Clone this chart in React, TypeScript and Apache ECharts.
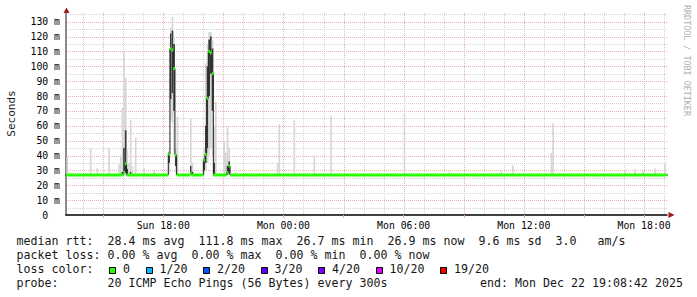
import React, { useEffect, useRef } from "react";
import * as echarts from "echarts";

// ---------- time helpers (hours since Sun 00:00) ----------
function t(label: string): number {
  const [day, hm] = label.split(" ");
  const [h, m] = hm.split(":").map(Number);
  return (day === "Mon" ? 24 : 0) + h + m / 60;
}
const STEP_H = 5 / 60; // 300 s step
const START_H = 13 + 8 / 60 + 42 / 3600; // Sun 13:08:42
const END_H = START_H + 30; // Mon 19:08:42
const Y_MAX = 135.85;

// ---------- axis ticks ----------
const xTickHours = [18, 24, 30, 36, 42];
const xTickLabels = ["Sun 18:00", "Mon 00:00", "Mon 06:00", "Mon 12:00", "Mon 18:00"];
const yTickValues = [0, 10, 20, 30, 40, 50, 60, 70, 80, 90, 100, 110, 120, 130];
const yTickLabels = ["0", "10 m", "20 m", "30 m", "40 m", "50 m", "60 m", "70 m", "80 m", "90 m", "100 m", "110 m", "120 m", "130 m"];

// ---------- median rtt (ms), value holds from the step start until the next entry ----------
const medianSteps: [string, number][] = [
  ["Sun 13:05", 26.9],
  ["Sun 16:00", 28.5],
  ["Sun 16:05", 34.3],
  ["Sun 16:10", 26.9],
  ["Sun 18:15", 41.0],
  ["Sun 18:20", 111.8],
  ["Sun 18:25", 111.0],
  ["Sun 18:30", 98.6],
  ["Sun 18:35", 40.3],
  ["Sun 18:40", 26.9],
  ["Sun 19:20", 27.6],
  ["Sun 19:25", 26.9],
  ["Sun 20:00", 37.0],
  ["Sun 20:05", 40.8],
  ["Sun 20:10", 78.5],
  ["Sun 20:15", 110.0],
  ["Sun 20:20", 109.0],
  ["Sun 20:25", 95.0],
  ["Sun 20:30", 26.9],
  ["Sun 21:10", 28.5],
  ["Sun 21:15", 33.0],
  ["Sun 21:20", 26.9],
];

// ---------- smoke: [step start, min, lower quartile, upper quartile, max] in ms ----------
const smokeSteps: [string, number, number, number, number][] = [
  ["Sun 13:10", 27.0, 27.0, 27.0, 39.0],
  ["Sun 14:20", 27.0, 27.0, 27.0, 45.0],
  ["Sun 14:40", 27.0, 27.0, 27.0, 31.5],
  ["Sun 15:15", 27.0, 27.0, 27.0, 45.0],
  ["Sun 15:45", 27.0, 27.0, 27.0, 34.0],
  ["Sun 15:50", 27.0, 27.0, 27.0, 40.0],
  ["Sun 15:55", 27.0, 27.0, 29.0, 72.0],
  ["Sun 16:00", 27.0, 27.5, 45.0, 110.0],
  ["Sun 16:05", 27.0, 28.5, 57.0, 92.0],
  ["Sun 16:10", 27.0, 27.0, 31.0, 44.0],
  ["Sun 16:15", 27.0, 27.0, 27.0, 35.0],
  ["Sun 16:20", 27.0, 27.0, 29.0, 64.0],
  ["Sun 16:25", 27.0, 27.0, 27.0, 33.0],
  ["Sun 16:35", 27.0, 27.0, 27.0, 52.0],
  ["Sun 17:00", 27.0, 27.0, 27.0, 31.5],
  ["Sun 17:30", 27.0, 27.0, 27.0, 30.0],
  ["Sun 18:15", 28.0, 35.0, 42.0, 43.0],
  ["Sun 18:20", 64.0, 78.0, 122.0, 126.0],
  ["Sun 18:25", 62.0, 82.0, 124.0, 133.0],
  ["Sun 18:30", 41.0, 70.0, 115.0, 120.0],
  ["Sun 18:35", 28.0, 33.0, 41.0, 45.0],
  ["Sun 18:40", 27.0, 27.0, 27.0, 66.0],
  ["Sun 19:20", 27.0, 27.0, 33.0, 65.0],
  ["Sun 19:25", 27.0, 27.0, 29.0, 35.0],
  ["Sun 20:00", 27.0, 30.0, 38.0, 45.0],
  ["Sun 20:05", 30.0, 35.0, 60.0, 102.0],
  ["Sun 20:10", 35.0, 45.0, 100.0, 115.0],
  ["Sun 20:15", 40.0, 80.0, 118.0, 123.0],
  ["Sun 20:20", 45.0, 95.0, 120.0, 123.0],
  ["Sun 20:25", 40.0, 70.0, 112.0, 118.0],
  ["Sun 20:30", 27.0, 27.0, 35.0, 60.0],
  ["Sun 20:35", 27.0, 27.0, 27.0, 76.0],
  ["Sun 21:00", 27.0, 27.0, 27.0, 50.0],
  ["Sun 21:05", 27.0, 27.0, 27.0, 42.0],
  ["Sun 21:10", 27.0, 27.0, 33.0, 59.0],
  ["Sun 21:15", 27.0, 28.0, 36.0, 45.0],
  ["Sun 23:40", 27.0, 27.0, 27.0, 35.0],
  ["Sun 23:45", 27.0, 27.0, 27.0, 61.0],
  ["Mon 00:30", 27.0, 27.0, 27.0, 64.0],
  ["Mon 01:30", 27.0, 27.0, 27.0, 40.0],
  ["Mon 02:20", 27.0, 27.0, 27.0, 67.0],
  ["Mon 06:00", 27.0, 27.0, 27.0, 68.6],
  ["Mon 08:15", 27.0, 27.0, 27.0, 29.0],
  ["Mon 10:50", 27.0, 27.0, 27.0, 30.0],
  ["Mon 11:25", 27.0, 27.0, 27.0, 33.6],
  ["Mon 13:20", 27.0, 27.0, 27.0, 41.7],
  ["Mon 13:25", 27.0, 27.0, 27.0, 61.7],
  ["Mon 17:00", 27.0, 27.0, 27.0, 30.0],
  ["Mon 17:30", 27.0, 27.0, 27.0, 30.7],
  ["Mon 17:55", 27.0, 27.0, 27.0, 29.8],
  ["Mon 18:30", 27.0, 27.0, 27.0, 31.4],
  ["Mon 19:00", 27.0, 27.0, 27.0, 34.8],
];

// ---------- legend texts ----------
const rttStats = ["28.4 ms avg", "111.8 ms max", "26.7 ms min", "26.9 ms now", "9.6 ms sd", "3.0   am/s"];
const lossStats = ["0.00 % avg", "0.00 % max", "0.00 % min", "0.00 % now"];
const lossLabels = ["0", "1/20", "2/20", "3/20", "4/20", "10/20", "19/20"];
const lossColors = ["#26ff00", "#00b8ff", "#0059ff", "#5e00ff", "#7e00ff", "#dd00ff", "#ff0000"];
const probeText = "20 ICMP Echo Pings (56 Bytes) every 300s";
const endText = "end: Mon Dec 22 19:08:42 2025";

const MONO = "'DejaVu Sans Mono', monospace";
const CW = 7.0;
const LEG_X = 16.5;
const MINOR = "#d4d4d4";
const MAJOR = "#e6b0b0";

function monoWords(line: string, x0: number, y: number): any[] {
  const out: any[] = [];
  const re = /\S+/g;
  let m: RegExpExecArray | null;
  while ((m = re.exec(line))) {
    out.push({
      type: "text",
      x: x0 + m.index * CW,
      y,
      silent: true,
      style: {
        text: m[0],
        fontFamily: MONO,
        fontSize: 11.6,
        fill: "#161616",
        align: "left",
        verticalAlign: "middle",
        textAlign: "left",
        textVerticalAlign: "middle",
      },
    });
  }
  return out;
}

export default function App() {
  const ref = useRef<HTMLDivElement>(null);

  useEffect(() => {
    if (!ref.current) return;
    const chart = echarts.init(ref.current, undefined, { renderer: "svg" });

    const gridHours: number[] = [];
    for (let h = Math.ceil(START_H); h <= END_H; h++) gridHours.push(h);
    const gridMs: number[] = [];
    for (let v = 5; v < Y_MAX; v += 5) gridMs.push(v);
    const majorHours = gridHours.filter((h) => h % 3 === 0);

    const medianX = medianSteps.map((d) => t(d[0]));
    const medianV = medianSteps.map((d) => d[1]);
    const medianLine = medianSteps.map((d) => [t(d[0]), d[1]]);
    medianLine.push([END_H + 0.2, medianV[medianV.length - 1]]);

    const smokeData = smokeSteps.map((d) => [t(d[0]), d[1], d[2], d[3], d[4]]);

    // legend graphics
    const graphics: any[] = [];
    graphics.push(...monoWords("median rtt:  " + rttStats.join("  "), LEG_X, 241));
    graphics.push(...monoWords("packet loss: " + lossStats.join("  "), LEG_X, 255));
    graphics.push(...monoWords("loss color:", LEG_X, 269));
    let bx = 109.3;
    lossLabels.forEach((lab, i) => {
      graphics.push({
        type: "rect",
        silent: true,
        shape: { x: Math.round(bx) + 0.5, y: 267.5, width: 6, height: 6 },
        style: { fill: lossColors[i], stroke: "#000", lineWidth: 1 },
      });
      graphics.push(...monoWords(lab, bx + 13.7, 269));
      bx = bx + 14 + lab.length * CW + 15.5;
    });
    graphics.push(...monoWords("probe:       " + probeText, LEG_X, 283));
    graphics.push(...monoWords(endText, 683 - endText.length * CW, 283));

    graphics.push({
      type: "text",
      x: 11,
      y: 113.5,
      rotation: Math.PI / 2,
      silent: true,
      style: {
        text: "Seconds",
        fontFamily: MONO,
        fontSize: 11,
        fill: "#222",
        align: "center",
        verticalAlign: "middle",
        textAlign: "center",
        textVerticalAlign: "middle",
      },
    });
    graphics.push({
      type: "text",
      x: 687,
      y: 5,
      rotation: -Math.PI / 2,
      silent: true,
      style: {
        text: "RRDTOOL / TOBI OETIKER",
        fontFamily: MONO,
        fontSize: 8.4,
        fill: "#b0b0b0",
        align: "left",
        verticalAlign: "middle",
        textAlign: "left",
        textVerticalAlign: "middle",
      },
    });
    // axis arrows
    graphics.push({
      type: "polygon",
      silent: true,
      shape: { points: [[63.5, 13], [69.5, 13], [66.5, 7.5]] },
      style: { fill: "#9a1b1b" },
    });
    graphics.push({
      type: "polygon",
      silent: true,
      shape: { points: [[668.5, 212], [668.5, 218], [674.5, 215]] },
      style: { fill: "#9a1b1b" },
    });

    const option: any = {
      animation: false,
      backgroundColor: "#ffffff",
      grid: { left: 66, top: 13, width: 601, height: 202, containLabel: false, outerBoundsMode: "none" },
      xAxis: {
        type: "value",
        min: START_H,
        max: END_H,
        axisLine: { show: true, lineStyle: { color: "#000", width: 1.5 } },
        axisTick: {
          show: true,
          customValues: majorHours,
          length: 3,
          lineStyle: { color: MAJOR, width: 1 },
        },
        splitLine: { show: false },
        axisLabel: {
          customValues: xTickHours,
          formatter: (v: number) => {
            const i = xTickHours.findIndex((h) => Math.abs(h - v) < 1e-6);
            return i >= 0 ? xTickLabels[i] : "";
          },
          fontFamily: MONO,
          fontSize: 9.8,
          color: "#000",
          margin: 5,
        },
      },
      yAxis: {
        type: "value",
        min: 0,
        max: Y_MAX,
        interval: 10,
        axisLine: { show: true, lineStyle: { color: "#666", width: 1.5 } },
        axisTick: { show: false },
        splitLine: { show: false },
        axisLabel: {
          formatter: (v: number) => {
            const i = yTickValues.indexOf(v);
            if (i < 0) return "";
            return v === 0 ? "{z|" + yTickLabels[i] + "}" : yTickLabels[i];
          },
          rich: { z: { padding: [0, 11.8, 0, 0], fontFamily: MONO, fontSize: 9.8, color: "#000" } },
          fontFamily: MONO,
          fontSize: 9.8,
          color: "#000",
          margin: 6,
        },
      },
      series: [
        {
          type: "custom",
          name: "vgrid",
          silent: true,
          z: 0,
          clip: false,
          data: gridHours.map((h) => [h, 0]),
          encode: { x: 0, y: 1 },
          renderItem: (_p: any, api: any) => {
            const h = api.value(0);
            const top = api.coord([h, Y_MAX]);
            const bot = api.coord([h, 0]);
            const x = Math.round(top[0]) + 0.5;
            return {
              type: "line",
              shape: { x1: x, y1: top[1], x2: x, y2: bot[1] },
              style: { stroke: h % 3 === 0 ? MAJOR : MINOR, lineWidth: 1, lineDash: [1, 1] },
            };
          },
        },
        {
          type: "custom",
          name: "hgrid",
          silent: true,
          z: 0,
          clip: false,
          data: gridMs.map((v) => [START_H, v]),
          encode: { x: 0, y: 1 },
          renderItem: (_p: any, api: any) => {
            const v = api.value(1);
            const l = api.coord([START_H, v]);
            const r = api.coord([END_H, v]);
            const y = Math.round(l[1]) + 0.5;
            return {
              type: "line",
              shape: { x1: l[0], y1: y, x2: r[0], y2: y },
              style: { stroke: v % 10 === 0 ? MAJOR : MINOR, lineWidth: 1, lineDash: [1, 1] },
            };
          },
        },
        {
          type: "custom",
          name: "smoke",
          silent: true,
          z: 2,
          clip: true,
          data: smokeData,
          encode: { x: 0, y: [1, 2, 3, 4] },
          renderItem: (_p: any, api: any) => {
            const s = api.value(0);
            const lo = api.value(1);
            const q1 = api.value(2);
            const q3 = api.value(3);
            const hi = api.value(4);
            const x0 = api.coord([s, 0])[0];
            const x1 = api.coord([s + STEP_H, 0])[0];
            const yLo = api.coord([s, lo])[1];
            const yHi = api.coord([s, hi])[1];
            const yQ1 = api.coord([s, q1])[1];
            const yQ3 = api.coord([s, q3])[1];
            const children: any[] = [
              { type: "rect", shape: { x: x0, y: yHi, width: x1 - x0, height: yLo - yHi }, style: { fill: "#d6d6d6" } },
            ];
            if (q3 > q1) {
              children.push({
                type: "rect",
                shape: { x: x0, y: yQ3, width: x1 - x0, height: yQ1 - yQ3 },
                style: { fill: "#3a3a3a" },
              });
            }
            return { type: "group", children };
          },
        },
        {
          type: "line",
          name: "median",
          silent: true,
          z: 3,
          step: "end",
          showSymbol: false,
          symbol: "none",
          clip: true,
          data: medianLine,
          lineStyle: { color: "#202020", width: 1 },
        },
        {
          type: "custom",
          name: "medianLoss",
          silent: true,
          z: 4,
          clip: true,
          data: medianLine.slice(0, medianSteps.length),
          encode: { x: 0, y: 1 },
          renderItem: (p: any, api: any) => {
            const i = p.dataIndex;
            const t0 = medianX[i];
            const t1 = i + 1 < medianX.length ? medianX[i + 1] : END_H + 0.2;
            const v = medianV[i];
            const a = api.coord([t0, v]);
            const b = api.coord([t1, v]);
            return {
              type: "rect",
              shape: { x: a[0], y: a[1] - 1.5, width: b[0] - a[0], height: 3 },
              style: { fill: lossColors[0] },
            };
          },
        },
      ],
      graphic: graphics,
    };

    chart.setOption(option);
    return () => chart.dispose();
  }, []);

  return (
    <div
      ref={ref}
      style={{ position: "fixed", left: 0, top: 0, width: 697, height: 297, background: "#fff" }}
    />
  );
}
